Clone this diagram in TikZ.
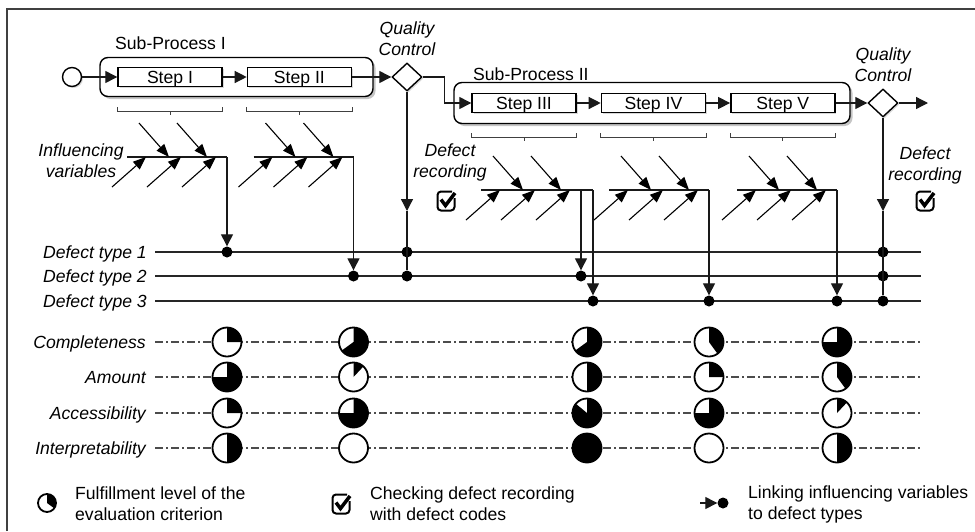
\documentclass[tikz,border=0pt]{standalone}
\usepackage{fontspec}
\setmainfont{Liberation Sans}
\usetikzlibrary{positioning,arrows.meta,shapes.geometric,shadows,calc}

\tikzset{
  frame/.style={line width=1.2pt, draw=black!75},
  flow/.style={line width=1.3pt, draw=black!90, -{Triangle[length=12pt,width=12pt]}},
  conn/.style={line width=1.3pt, draw=black!90},
  link/.style={conn, -{Triangle[length=12pt,width=12pt]}},
  infl/.style={line width=1.1pt, draw=black, -{Triangle[length=13pt,width=10pt]}},
  brk/.style={line width=1pt, draw=black!75},
  stepbox/.style={draw, line width=1.4pt, fill=white, minimum width=104pt, minimum height=19pt,
    inner sep=0pt, text height=12pt, text depth=0pt,
    drop shadow={shadow xshift=1.5pt, shadow yshift=-1.5pt, fill=black!30}},
  subproc/.style={draw, line width=1.4pt, rounded corners=8pt, fill=white,
    drop shadow={shadow xshift=2.5pt, shadow yshift=-2.5pt, fill=black!45}},
  qcheck/.style={diamond, draw, line width=1.4pt, fill=white, minimum width=30pt, minimum height=28pt,
    inner sep=0pt, drop shadow={shadow xshift=1.5pt, shadow yshift=-1.5pt, fill=black!30}},
  startev/.style={circle, draw, line width=1.4pt, fill=white, minimum size=19pt, inner sep=0pt,
    drop shadow={shadow xshift=1.5pt, shadow yshift=-1.5pt, fill=black!30}},
  dot/.style={circle, fill=black, minimum size=11pt, inner sep=0pt},
  qclbl/.style={font=\itshape, align=center, inner sep=1pt},
  deflbl/.style={font=\itshape, anchor=base east, inner sep=0pt},
  defline/.style={line width=1.3pt, draw=black!85},
  critline/.style={line width=1.1pt, draw=black!70, dash pattern=on 8pt off 3pt on 2pt off 3pt},
  ballrim/.style={line width=1.8pt, draw=black},
  lgtext/.style={anchor=west, align=left, inner sep=2pt}
}

% harvey ball: x, y, fraction, radius
\newcommand\hball[4]{%
  \begin{scope}[shift={(#1,#2)},y=1pt]
    \fill[white] (0,0) circle (#4);
    \ifdim#3pt>0pt
      \fill[black] (0,0) -- (0,#4) arc[start angle=90,delta angle={-360*#3},radius=#4] -- cycle;
    \fi
    \draw[ballrim] (0,0) circle (#4);
  \end{scope}}

% check box: x, y
\newcommand\chkbox[2]{%
  \begin{scope}[shift={(#1,#2)},y=1pt]
    \draw[line width=2pt, rounded corners=3.5pt] (6,9.5) -- (-8.5,9.5) -- (-8.5,-9.5) -- (8.5,-9.5) -- (8.5,3);
    \draw[line width=3.5pt] (-5,1.5) -- (-0.5,-4.5) -- (9,8);
  \end{scope}}

% influencing variables: name, x of link, y of spine
\newcommand\fishbone[3]{%
  \coordinate (#1) at (#2,#3);
  \draw[conn] ($(#1)+(-100,0)$) -- (#1);
  \draw[infl] ($(#1)+(-88,-34)$) -- ($(#1)+(-58,0)$);
  \draw[infl] ($(#1)+(-50,-34)$) -- ($(#1)+(-20,0)$);
  \draw[infl] ($(#1)+(-115,30)$) -- ($(#1)+(-81,0)$);
  \draw[infl] ($(#1)+(-80,30)$) -- ($(#1)+(-46,0)$);
  \draw[infl] ($(#1)+(-45,30)$) -- ($(#1)+(-11,0)$);}

\begin{document}
\fontsize{17.6}{21}\selectfont
\begin{tikzpicture}[x=1pt,y=-1pt]
  \useasboundingbox (0,0) rectangle (975,531);
  \draw[frame] (7,531) -- (7,9) -- (975,9);

  % sub-process I
  \node[subproc, minimum width=273pt, minimum height=39pt] (sp1) at (236.5,77) {};
  \node[anchor=base west, inner sep=0pt] (sp1lbl) at (115,49) {Sub-Process I};
  \node[startev] (st) at (72,77) {};
  \node[stepbox] (s1) at (170,77) {Step I};
  \node[stepbox, right=24pt of s1] (s2) {Step II};
  \node[qcheck] (qc1) at (407,77) {};
  \node[qclbl, above=5pt of qc1] (qc1lbl) {Quality\\Control};

  % sub-process II
  \node[subproc, minimum width=396pt, minimum height=41pt] (sp2) at (652,103) {};
  \node[anchor=base west, inner sep=0pt] (sp2lbl) at (473,80) {Sub-Process II};
  \node[stepbox] (s3) at (524,103) {Step III};
  \node[stepbox, right=24pt of s3] (s4) {Step IV};
  \node[stepbox, right=24pt of s4] (s5) {Step V};
  \node[qcheck] (qc2) at (883,103) {};
  \node[qclbl, above=5pt of qc2] (qc2lbl) {Quality\\Control};
  \coordinate (fin) at (928,103);

  \draw[flow] (st) -- (s1);
  \draw[flow] (s1) -- (s2);
  \draw[flow] (s2) -- (qc1);
  \draw[flow] (qc1.east) -- ++(22,0) |- (s3);
  \draw[flow] (s3) -- (s4);
  \draw[flow] (s4) -- (s5);
  \draw[flow] (s5) -- (qc2);
  \draw[flow] (qc2) -- (fin);

  \foreach \s in {s1,s2,s3,s4,s5} {
    \draw[brk] ($(\s.south west)+(0,20)$) -- ++(0,4) -- ($(\s.south east)+(0,24)$) -- ++(0,-4);
    \draw[brk] ($(\s.south)+(0,24)$) -- ++(0,4);
  }

  % influencing variables
  \node[qclbl] (invar) at (81,161) {Influencing\\variables};
  \fishbone{fb1}{227}{157}
  \fishbone{fb2}{353.5}{157}
  \fishbone{fb3}{581}{190}
  \fishbone{fb4}{709}{190}
  \fishbone{fb5}{837}{190}
  \draw[conn] (fb3) -- ++(12,0) coordinate (fb3x);

  % defect recording
  \node[qclbl] (drec1) at (450,162) {Defect\\recording};
  \chkbox{446}{201}
  \node[qclbl] (drec2) at (925,165) {Defect\\recording};
  \chkbox{925}{201}

  % defect types
  \foreach \k/\yy in {1/252,2/276,3/301} {
    \node[deflbl] (dt\k) at (147,\yy+6) {Defect type \k};
    \draw[defline] (155,\yy) -- (921,\yy);
  }
  \node[dot] (d1a) at (227,252) {};
  \node[dot] (d2a) at (353.5,276) {};
  \node[dot] (d2c) at (581,276) {};
  \node[dot] (d3a) at (593,301) {};
  \node[dot] (d3b) at (709,301) {};
  \node[dot] (d3c) at (837,301) {};
  \node[dot] (q1a) at (407,252) {};
  \node[dot] (q1b) at (407,276) {};
  \node[dot] (q2a) at (883,252) {};
  \node[dot] (q2b) at (883,276) {};
  \node[dot] (q2c) at (883,301) {};

  \draw[link] (fb1) -- (d1a);
  \draw[link] (fb2) -- (d2a);
  \draw[link] (fb3) -- (d2c);
  \draw[link] (fb3x) -- (d3a);
  \draw[link] (fb4) -- (d3b);
  \draw[link] (fb5) -- (d3c);
  \coordinate (qm1) at (407,211);
  \coordinate (qm2) at (883,211);
  \draw[link] (qc1) -- (qm1);
  \draw[conn] (qm1) -- (q1b);
  \draw[link] (qc2) -- (qm2);
  \draw[conn] (qm2) -- (q2c);

  % evaluation criteria
  \foreach \crit/\yy/\fa/\fb/\fc/\fd/\fe in {
      Completeness/342/.25/.65/.65/.4/.75,
      Amount/377/.75/.12/.5/.25/.4,
      Accessibility/413/.25/.75/.86/.75/.12,
      Interpretability/448/.5/0/1/0/.5} {
    \node[deflbl] (c\crit) at (146,\yy+6) {\crit};
    \draw[critline] (155,\yy) -- (921,\yy);
    \hball{227}{\yy}{\fa}{14.5}
    \hball{353.5}{\yy}{\fb}{14.5}
    \hball{587}{\yy}{\fc}{14.5}
    \hball{709}{\yy}{\fd}{14.5}
    \hball{837}{\yy}{\fe}{14.5}
  }

  % legend
  \hball{47}{503}{.35}{9}
  \node[lgtext] (lg1) at (73,504) {Fulfillment level of the\\evaluation criterion};
  \chkbox{341}{504}
  \node[lgtext] (lg2) at (368,504) {Checking defect recording\\with defect codes};
  \coordinate (lgarr) at (700,503);
  \node[dot] (lgdot) at (723,503) {};
  \draw[link] (lgarr) -- (lgdot);
  \node[lgtext] (lg3) at (746,504) {Linking influencing variables\\to defect types};
\end{tikzpicture}
\end{document}
